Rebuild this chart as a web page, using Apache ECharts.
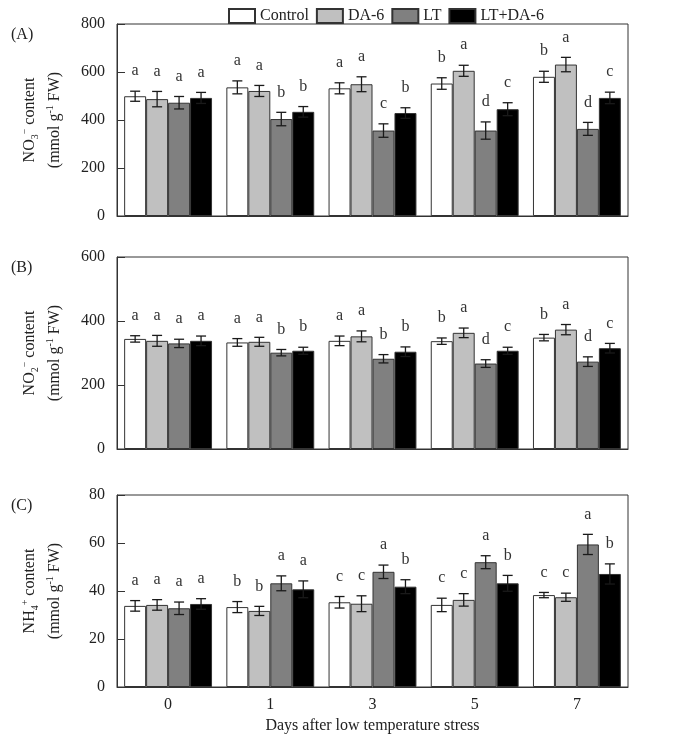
<!DOCTYPE html>
<html>
<head>
<meta charset="utf-8">
<script src="https://cdn.jsdelivr.net/npm/echarts@6/dist/echarts.min.js"></script>
<style>
html,body{margin:0;padding:0;background:#fff;}
#chart{width:684px;height:738px;}
</style>
</head>
<body>
<div id="chart"></div>
<script>
// ---- data ----
const days = ['0', '1', '3', '5', '7'];
const seriesNames = ['Control', 'DA-6', 'LT', 'LT+DA-6'];

// (A) NO3- content
const nitrateControl = [499, 536, 532, 552, 580];
const nitrateDA6     = [487, 521, 549, 605, 631];
const nitrateLT      = [472, 404, 356, 356, 363];
const nitrateLTDA6   = [492, 434, 429, 445, 492];
const nitrateControlErr = [21, 27, 23, 24, 23];
const nitrateDA6Err     = [32, 23, 31, 23, 30];
const nitrateLTErr      = [26, 28, 28, 36, 27];
const nitrateLTDA6Err   = [23, 22, 22, 27, 24];
const nitrateControlSig = ['a', 'a', 'a', 'b', 'b'];
const nitrateDA6Sig     = ['a', 'a', 'a', 'a', 'a'];
const nitrateLTSig      = ['a', 'b', 'c', 'd', 'd'];
const nitrateLTDA6Sig   = ['a', 'b', 'b', 'c', 'c'];

// (B) NO2- content
const nitriteControl = [344, 333, 338, 337, 348];
const nitriteDA6     = [338, 335, 352, 363, 373];
const nitriteLT      = [330, 301, 282, 267, 273];
const nitriteLTDA6   = [338, 307, 304, 307, 315];
const nitriteControlErr = [10, 12, 15, 10, 10];
const nitriteDA6Err     = [17, 14, 17, 15, 16];
const nitriteLTErr      = [13, 10, 13, 12, 15];
const nitriteLTDA6Err   = [15, 11, 15, 11, 15];
const nitriteControlSig = ['a', 'a', 'a', 'b', 'b'];
const nitriteDA6Sig     = ['a', 'a', 'a', 'a', 'a'];
const nitriteLTSig      = ['a', 'b', 'b', 'd', 'd'];
const nitriteLTDA6Sig   = ['a', 'b', 'b', 'c', 'c'];

// (C) NH4+ content
const ammoniumControl = [33.8, 33.3, 35.3, 34.2, 38.3];
const ammoniumDA6     = [34.2, 31.7, 34.7, 36.3, 37.4];
const ammoniumLT      = [32.8, 43.2, 48.0, 52.0, 59.4];
const ammoniumLTDA6   = [34.6, 40.7, 41.8, 43.2, 47.1];
const ammoniumControlErr = [2.2, 2.3, 2.4, 2.8, 1.1];
const ammoniumDA6Err     = [2.2, 1.9, 3.3, 2.6, 1.7];
const ammoniumLTErr      = [2.6, 3.1, 2.8, 2.7, 4.2];
const ammoniumLTDA6Err   = [2.2, 3.5, 2.9, 3.3, 4.2];
const ammoniumControlSig = ['a', 'b', 'c', 'c', 'c'];
const ammoniumDA6Sig     = ['a', 'b', 'c', 'c', 'c'];
const ammoniumLTSig      = ['a', 'a', 'a', 'a', 'a'];
const ammoniumLTDA6Sig   = ['a', 'a', 'b', 'b', 'b'];

// y axis ticks
const yTicksA = { min: 0, max: 800, interval: 200 };
const yTicksB = { min: 0, max: 600, interval: 200 };
const yTicksC = { min: 0, max: 80, interval: 20 };

// ---- styling / layout ----
const FONT = 'Liberation Serif';
const fillColors = ['#ffffff', '#c0c0c0', '#808080', '#000000'];
const BAR_FRAC = 0.215;

const panels = [
  { vals: [nitrateControl, nitrateDA6, nitrateLT, nitrateLTDA6],
    errs: [nitrateControlErr, nitrateDA6Err, nitrateLTErr, nitrateLTDA6Err],
    sigs: [nitrateControlSig, nitrateDA6Sig, nitrateLTSig, nitrateLTDA6Sig],
    ticks: yTicksA, top: 24, label: '(A)',
    name: '{t|NO}{sub|3}{sup|\u2212}{t| content}\n{t|(mmol g}{sup|-1}{t| FW)}' },
  { vals: [nitriteControl, nitriteDA6, nitriteLT, nitriteLTDA6],
    errs: [nitriteControlErr, nitriteDA6Err, nitriteLTErr, nitriteLTDA6Err],
    sigs: [nitriteControlSig, nitriteDA6Sig, nitriteLTSig, nitriteLTDA6Sig],
    ticks: yTicksB, top: 257, label: '(B)',
    name: '{t|NO}{sub|2}{sup|\u2212}{t| content}\n{t|(mmol g}{sup|-1}{t| FW)}' },
  { vals: [ammoniumControl, ammoniumDA6, ammoniumLT, ammoniumLTDA6],
    errs: [ammoniumControlErr, ammoniumDA6Err, ammoniumLTErr, ammoniumLTDA6Err],
    sigs: [ammoniumControlSig, ammoniumDA6Sig, ammoniumLTSig, ammoniumLTDA6Sig],
    ticks: yTicksC, top: 495, label: '(C)',
    name: '{t|NH}{sub|4}{sup|+}{t| content}\n{t|(mmol g}{sup|-1}{t| FW)}' }
];

const GRID_LEFT = 117, GRID_RIGHT = 56, GRID_H = 192;

const richName = {
  t: { fontFamily: FONT, fontSize: 16, color: '#222', lineHeight: 25 },
  sub: { fontFamily: FONT, fontSize: 10, color: '#222', lineHeight: 10, verticalAlign: 'bottom', padding: [0, 0, 2, 0] },
  sup: { fontFamily: FONT, fontSize: 10, color: '#222', lineHeight: 10, verticalAlign: 'top', padding: [3, 0, 0, 0] }
};

const grids = [], xAxes = [], yAxes = [], series = [], titles = [];

panels.forEach((p, gi) => {
  grids.push({ left: GRID_LEFT, right: GRID_RIGHT, top: p.top, height: GRID_H,
    show: true, borderColor: '#333', borderWidth: 1, backgroundColor: 'transparent' });
  const isLast = gi === panels.length - 1;
  xAxes.push({
    type: 'category', gridIndex: gi, data: days,
    axisLine: { lineStyle: { color: '#333', width: 1 } },
    axisTick: { show: false },
    axisLabel: { show: isLast, fontFamily: FONT, fontSize: 16, color: '#222', margin: 10 },
    name: isLast ? 'Days after low temperature stress' : '',
    nameLocation: 'middle', nameGap: 31,
    nameTextStyle: { fontFamily: FONT, fontSize: 16, color: '#222' }
  });
  yAxes.push({
    type: 'value', gridIndex: gi,
    min: p.ticks.min, max: p.ticks.max, interval: p.ticks.interval,
    axisLine: { show: true, lineStyle: { color: '#333', width: 1 } },
    axisTick: { show: true, inside: true, length: 8, lineStyle: { color: '#333' } },
    splitLine: { show: false },
    axisLabel: { fontFamily: FONT, fontSize: 16, color: '#222', margin: 12 },
    name: p.name, nameLocation: 'middle', nameRotate: 90, nameGap: 50,
    nameTextStyle: { rich: richName }
  });
  titles.push({ text: p.label, left: 6, top: p.top - 2,
    textStyle: { fontFamily: FONT, fontSize: 16, fontWeight: 'normal', color: '#222' } });

  seriesNames.forEach((nm, si) => {
    series.push({
      type: 'bar', name: nm, xAxisIndex: gi, yAxisIndex: gi,
      data: p.vals[si], barWidth: (BAR_FRAC * 100) + '%', barGap: '0%',
      itemStyle: { color: fillColors[si], borderColor: '#333', borderWidth: 1 },
      emphasis: { disabled: true }, animation: false
    });
  });
  seriesNames.forEach((nm, si) => {
    const vals = p.vals[si], errs = p.errs[si], sigs = p.sigs[si];
    series.push({
      type: 'custom', xAxisIndex: gi, yAxisIndex: gi, z: 5, animation: false,
      silent: true,
      data: vals.map((v, k) => [k, v, errs[k]]),
      renderItem: function (params, api) {
        const ci = api.value(0), v = api.value(1), e = api.value(2);
        const band = api.size([1, 0])[0];
        const bw = band * BAR_FRAC;
        const cx = api.coord([ci, v])[0] - 2 * bw + (si + 0.5) * bw;
        const yTop = api.coord([ci, v + e])[1];
        const yBot = api.coord([ci, v - e])[1];
        const cap = 5;
        const ls = { stroke: '#1a1a1a', lineWidth: 1.3 };
        return {
          type: 'group',
          children: [
            { type: 'line', shape: { x1: cx, y1: yTop, x2: cx, y2: yBot }, style: ls },
            { type: 'line', shape: { x1: cx - cap, y1: yTop, x2: cx + cap, y2: yTop }, style: ls },
            { type: 'line', shape: { x1: cx - cap, y1: yBot, x2: cx + cap, y2: yBot }, style: ls },
            { type: 'text', x: cx, y: yTop - 20,
              style: { text: sigs[params.dataIndex], fontFamily: FONT, fontSize: 16, fill: '#333',
                       align: 'center', verticalAlign: 'middle' } }
          ]
        };
      }
    });
  });
});

const chart = echarts.init(document.getElementById('chart'), null, { renderer: 'canvas' });
chart.setOption({
  animation: false,
  backgroundColor: '#fff',
  title: titles,
  legend: {
    data: seriesNames.map(n => ({ name: n, icon: 'rect' })), top: 3, left: 223,
    itemWidth: 26, itemHeight: 14, itemGap: 7,
    textStyle: { fontFamily: FONT, fontSize: 16, color: '#222' },
    selectedMode: false
  },
  grid: grids,
  xAxis: xAxes,
  yAxis: yAxes,
  series: series
});
</script>
</body>
</html>
